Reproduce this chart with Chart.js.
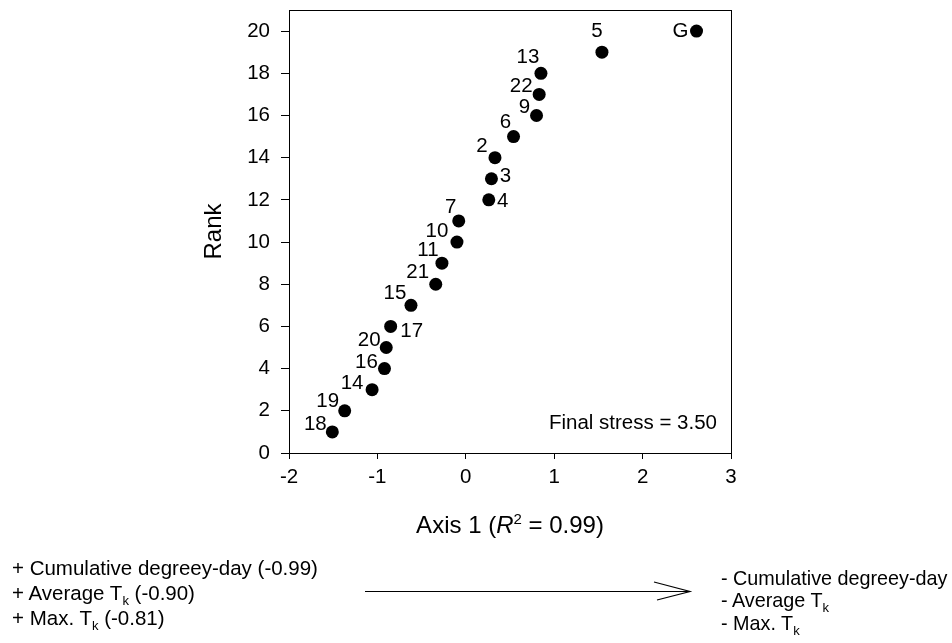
<!DOCTYPE html>
<html>
<head>
<meta charset="utf-8">
<script src="https://cdn.jsdelivr.net/npm/chart.js@4.4.1/dist/chart.umd.min.js"></script>
<style>
  html, body { margin: 0; padding: 0; background: #fff; }
  #wrap { position: relative; width: 952px; height: 643px; font-family: "Liberation Sans", Arial, sans-serif; color: #000; }
  #wrap canvas { position: absolute; left: 0; top: 0; }
  .txt { position: absolute; white-space: nowrap; font-size: 20.5px; line-height: 24px; }
  .txt.right { font-size: 19.8px; }
  .txt sub { font-size: 13px; vertical-align: -5px; line-height: 0; }
  #xtitle { font-size: 24px; line-height: 28px; transform: translateX(-50%); }
  #xtitle sup { font-size: 15px; vertical-align: 9px; line-height: 0; }
  #arrow { position: absolute; left: 0; top: 0; }
</style>
</head>
<body>
<div id="wrap">
  <canvas id="nmdsChart" width="952" height="643"></canvas>
  <svg id="arrow" width="952" height="643">
    <line x1="365" y1="591.5" x2="690" y2="591.5" stroke="#000" stroke-width="1.2"/>
    <polyline points="654,582 690,591.5 657,600" fill="none" stroke="#000" stroke-width="1.2"/>
  </svg>
  <div class="txt" id="xtitle" style="left:510px; top:511px;">Axis 1 (<i>R</i><sup>2</sup> = 0.99)</div>
  <div class="txt" style="right:235px; top:410px;">Final stress = 3.50</div>
  <div class="txt" style="left:12px; top:556px;">+ Cumulative degreey-day (-0.99)</div>
  <div class="txt" style="left:12px; top:581px;">+ Average T<sub>k</sub> (-0.90)</div>
  <div class="txt" style="left:12px; top:606px;">+ Max. T<sub>k</sub> (-0.81)</div>
  <div class="txt right" style="left:721px; top:566px;">- Cumulative degreey-day</div>
  <div class="txt right" style="left:721px; top:588px;">- Average T<sub>k</sub></div>
  <div class="txt right" style="left:721px; top:611px;">- Max. T<sub>k</sub></div>
</div>
<script>
// sites / groups, their Axis 1 scores and ranks
const pointLabels = ["G", "5", "13", "22", "9", "6", "2", "3", "4", "7", "10", "11", "21", "15", "17", "20", "16", "14", "19", "18"];
const axis1 = [2.61, 1.54, 0.85, 0.83, 0.80, 0.54, 0.33, 0.29, 0.26, -0.08, -0.10, -0.27, -0.34, -0.62, -0.85, -0.90, -0.92, -1.06, -1.37, -1.51];
const rank = [20, 19, 18, 17, 16, 15, 14, 13, 12, 11, 10, 9, 8, 7, 6, 5, 4, 3, 2, 1];

const xTicks = [-2, -1, 0, 1, 2, 3];
const yTicks = [0, 2, 4, 6, 8, 10, 12, 14, 16, 18, 20];

// where each point's label sits relative to the dot (px)
const labelOffsets = {
    "G": [-16, 0], "5": [-5, -21], "13": [-13, -16], "22": [-18, -8], "9": [-12, -8],
    "6": [-8, -14], "2": [-13, -11], "3": [14, -2], "4": [14, 1], "7": [-8, -14],
    "10": [-20, -11], "11": [-14, -13], "21": [-18, -12], "15": [-16, -12], "17": [21, 5],
    "20": [-17, -7], "16": [-18, -6], "14": [-20, -6], "19": [-17, -9], "18": [-17, -8]
};

const FONT = "'Liberation Sans', Arial, sans-serif";

/* draws the frame round the plot and the point labels */
const framePlugin = {
    id: "frame",
    afterDatasetsDraw(chart) {
        const { ctx, chartArea: a } = chart;
        ctx.save();
        ctx.strokeStyle = "#000";
        ctx.lineWidth = 1;
        ctx.strokeRect(a.left + 0.5, a.top + 0.5, a.right - a.left, a.bottom - a.top);

        ctx.fillStyle = "#000";
        ctx.font = "20.5px " + FONT;
        ctx.textAlign = "center";
        ctx.textBaseline = "middle";
        const meta = chart.getDatasetMeta(0);
        meta.data.forEach((pt, i) => {
            const name = pointLabels[i];
            const off = labelOffsets[name] || [-14, -10];
            ctx.fillText(name, pt.x + off[0], pt.y + off[1]);
        });
        ctx.restore();
    }
};

const ctx = document.getElementById("nmdsChart").getContext("2d");
const nmdsChart = new Chart(ctx, {
    type: "scatter",
    data: {
        datasets: [{
            label: "Rank",
            data: axis1.map((v, i) => ({ x: v, y: rank[i] })),
            backgroundColor: "#000",
            borderColor: "#000",
            pointRadius: 6.5,
            pointHoverRadius: 6.5,
            borderWidth: 0
        }]
    },
    options: {
        responsive: false,
        animation: false,
        layout: {
            padding: { left: 200, right: 221, top: 10, bottom: 0 }
        },
        plugins: {
            legend: { display: false },
            tooltip: { enabled: false }
        },
        scales: {
            x: {
                type: "linear",
                min: -2,
                max: 3,
                afterFit: (scale) => {
                    scale.height = 190;
                    scale.paddingLeft = 0;
                    scale.paddingRight = 0;
                },
                afterBuildTicks: (scale) => { scale.ticks = xTicks.map(v => ({ value: v })); },
                border: { display: false },
                grid: { drawOnChartArea: false, drawTicks: true, tickLength: 6, color: "#000" },
                ticks: {
                    color: "#000",
                    padding: 6,
                    maxRotation: 0,
                    font: { family: FONT, size: 20.5 }
                },
                title: { display: false }
            },
            y: {
                type: "linear",
                min: 0,
                max: 21,
                afterFit: (scale) => {
                    scale.width = 89;
                    scale.paddingTop = 0;
                    scale.paddingBottom = 0;
                },
                afterBuildTicks: (scale) => { scale.ticks = yTicks.map(v => ({ value: v })); },
                border: { display: false },
                grid: { drawOnChartArea: false, drawTicks: true, tickLength: 8, color: "#000" },
                ticks: {
                    color: "#000",
                    padding: 11,
                    font: { family: FONT, size: 20.5 }
                },
                title: {
                    display: true,
                    text: "Rank",
                    color: "#000",
                    padding: { top: 0, bottom: 0 },
                    font: { family: FONT, size: 24 }
                }
            }
        }
    },
    plugins: [framePlugin]
});
</script>
</body>
</html>
